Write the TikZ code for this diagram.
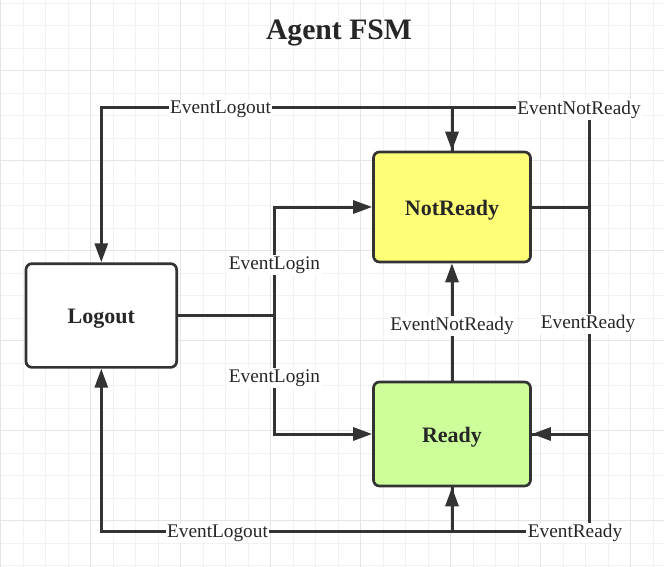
\documentclass[tikz,border=0pt]{standalone}
\usepackage{fontspec}
\setmainfont{Liberation Serif}
\usetikzlibrary{arrows.meta}
\definecolor{ink}{HTML}{333333}
\definecolor{txt}{HTML}{262626}
\definecolor{gridminor}{HTML}{F2F2F2}
\definecolor{gridmajor}{HTML}{E5E5E5}
\definecolor{nrfill}{HTML}{FFFF77}
\definecolor{rdfill}{HTML}{CCFF99}
\tikzset{
  statebox/.style={draw=ink, line width=2.7pt, rounded corners=6pt, text=txt,
    font=\fontsize{22}{26}\selectfont\bfseries, inner sep=0pt,
    text height=18pt, text depth=2pt},
  conn/.style={draw=ink, line width=3pt},
  arr/.style={conn, -{Triangle[length=19pt,width=13pt]}},
  lbl/.style={fill=white, text=txt, inner sep=1.5pt, yshift=-2pt,
    font=\fontsize{19.3}{22}\selectfont},
}
\begin{document}
\begin{tikzpicture}[x=1pt,y=-1pt]
\useasboundingbox (0,0) rectangle (664,567);
\fill[white] (0,0) rectangle (664,567);
% grid
\foreach \k in {0,...,29} \draw[gridminor, line width=1.2pt] ({0.7+22.5*\k},0) -- ({0.7+22.5*\k},567);
\foreach \k in {0,...,25} \draw[gridminor, line width=1.2pt] (0,{3.3+22.5*\k}) -- (664,{3.3+22.5*\k});
\foreach \k in {0,...,7} \draw[gridmajor, line width=1.2pt] ({0.7+90*\k},0) -- ({0.7+90*\k},567);
\foreach \k in {0,...,5} \draw[gridmajor, line width=1.2pt] (0,{70.7+90*\k}) -- (664,{70.7+90*\k});

% title
\node[text=txt, font=\fontsize{29.7}{34}\selectfont\bfseries] (title) at (339,33) {Agent FSM};

% states
\node[statebox, fill=white, minimum width=150.7pt, minimum height=103.7pt] (logout) at (101.3,315.5) {Logout};
\node[statebox, fill=nrfill, minimum width=157pt, minimum height=110pt] (notready) at (452,207) {NotReady};
\node[statebox, fill=rdfill, minimum width=157pt, minimum height=104pt] (ready) at (452,434) {Ready};

% helper coordinates
\coordinate (jl) at (274.5,315.5);
\coordinate (ta) at (452,107.5);
\coordinate (tr) at (589,107.5);
\coordinate (rx) at (589,320);
\coordinate (br) at (589,531);
\coordinate (ba) at (452,531);

% connectors
\draw[conn] (logout.east) -- (jl);
\draw[arr] (jl) |- (notready.west);
\draw[arr] (jl) |- (ready.west);
\draw[arr] (notready.north) -- (ta) -| (logout.north);
\draw[arr] (notready.east) -| (tr) -| (notready.north);
\draw[arr] (notready.east) -| (rx) |- (ready.east);
\draw[arr] (ready.south) -- (ba) -| (logout.south);
\draw[arr] (ready.east) -| (br) -| (ready.south);
\draw[arr] (ready.north) -- (notready.south);

% labels
\node[lbl] (l1) at (220.5,107.5) {EventLogout};
\node[lbl] (l2) at (579,107.5) {EventNotReady};
\node[lbl] (l3) at (274.5,263) {EventLogin};
\node[lbl] (l4) at (274.5,376) {EventLogin};
\node[lbl] (l5) at (452,324) {EventNotReady};
\node[lbl] (l6) at (588,322) {EventReady};
\node[lbl] (l7) at (217.5,531) {EventLogout};
\node[lbl] (l8) at (575,531) {EventReady};
\end{tikzpicture}
\end{document}
